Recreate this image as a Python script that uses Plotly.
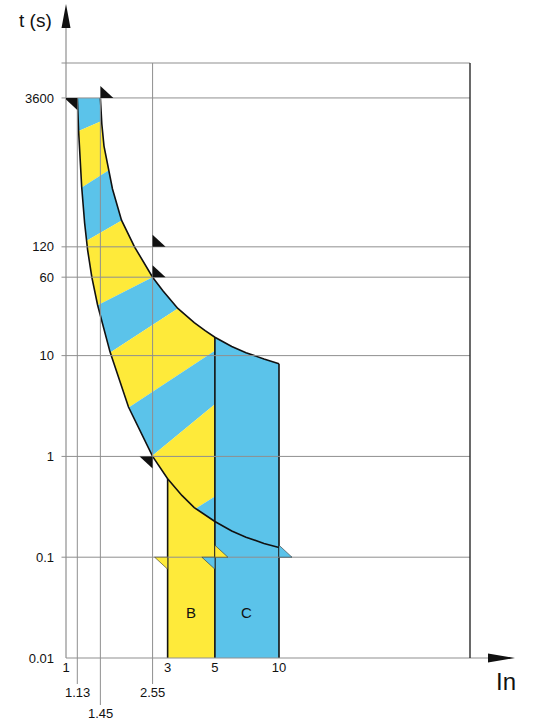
import math
import plotly.graph_objects as go

# ---------------- data ----------------
x_ticks = [1, 3, 5, 10]
x_tick_text = ["1", "3", "5", "10"]
x_extra_ticks = [1.13, 2.55, 1.45]
x_extra_text = ["1.13", "2.55", "1.45"]
x_extra_row = [1, 1, 2]          # label row below the axis
y_ticks = [0.01, 0.1, 1, 10, 60, 120, 3600]
y_tick_text = ["0.01", "0.1", "1", "10", "60", "120", "3600"]

# minimum tripping curve (lower / left boundary)
lower_in = [1.13, 1.146, 1.185, 1.223, 1.263, 1.322, 1.407, 1.609, 1.965, 2.55, 3, 3.5, 4, 5, 6, 7, 8.5, 10]
lower_t = [3600, 1690, 471, 207, 112, 60, 31.8, 10.9, 3.09, 1.0, 0.6, 0.41, 0.311, 0.226, 0.182, 0.158, 0.137, 0.125]
# maximum tripping curve (upper / right boundary)
upper_in = [1.45, 1.473, 1.508, 1.653, 1.822, 2.097, 2.55, 2.85, 3.35, 4, 4.5, 5, 6, 7, 8.5, 10]
upper_t = [3600, 1985, 1200, 450, 221, 120, 60, 44, 29.4, 21.2, 17.7, 15.2, 12.3, 10.7, 9.25, 8.3]

# magnetic zones
zone_names = ["B", "C"]
zone_lo = [3, 5]
zone_hi = [5, 10]
zone_label_t = [0.028, 0.028]

# diagonal stripe boundaries inside the thermal band (two points each)
stripe_a_in = [1.146, 1.185, 1.249, 1.407, 1.611, 1.97, 2.55, 4.08]
stripe_a_t = [1690, 466, 138, 31.6, 10.7, 3.05, 1.02, 0.305]
stripe_b_in = [1.453, 1.588, 1.823, 2.55, 3.35, 5, 5, 5]
stripe_b_t = [2100, 692, 219, 60, 29.4, 11.2, 3.3, 0.40]

# small flag markers
flag_in = [1.13, 1.45, 2.55, 2.55, 2.55, 3, 5, 5, 10]
flag_t = [3600, 3600, 120, 60, 1, 0.1, 0.1, 0.1, 0.1]
flag_side = ["left", "right", "right", "right", "left", "left", "left", "right", "right"]
flag_kind = ["k", "k", "k", "k", "k", "y", "b", "y", "b"]

# ---------------- style ----------------
YEL = "#FEEA3A"
BLU = "#5BC3EA"
BLK = "#111111"
GRID = "#8f8f8f"
FONT = "Liberation Sans, Arial, Helvetica, sans-serif"
kind_color = {"k": BLK, "y": YEL, "b": BLU}
stripe_colors = [BLU, YEL, BLU, YEL, BLU, YEL, BLU, YEL, BLU]

X_RANGE = [0, 1.8967]
Y_RANGE = [-2, 3.903]
PLOT_H = 595
PLOT_W = 404

L = lambda v: math.log10(v)


def to_uv(xs, ts):
    return [(L(a), L(b)) for a, b in zip(xs, ts)]


def clip(poly, A, B, keep_above):
    def side(P):
        return (B[0] - A[0]) * (P[1] - A[1]) - (B[1] - A[1]) * (P[0] - A[0])
    out = []
    n = len(poly)
    for i in range(n):
        P, Q = poly[i], poly[(i + 1) % n]
        sp, sq = side(P), side(Q)
        inside = sp >= 0 if keep_above else sp <= 0
        if inside:
            out.append(P)
        if (sp > 0 and sq < 0) or (sp < 0 and sq > 0):
            t = sp / (sp - sq)
            out.append((P[0] + t * (Q[0] - P[0]), P[1] + t * (Q[1] - P[1])))
    return out


fig = go.Figure()

# B zone (yellow, under the lower curve)
b_pts = [(x, t) for x, t in zip(lower_in, lower_t) if zone_lo[0] <= x <= zone_hi[0]]
bx = [zone_lo[0]] + [p[0] for p in b_pts] + [zone_hi[0]]
by = [y_ticks[0]] + [p[1] for p in b_pts] + [y_ticks[0]]
fig.add_trace(go.Scatter(x=bx, y=by, fill="toself", fillcolor=YEL, mode="none",
                         hoverinfo="skip", showlegend=False))
# C zone (blue, under the upper curve)
c_pts = [(x, t) for x, t in zip(upper_in, upper_t) if zone_lo[1] <= x <= zone_hi[1]]
cx = [zone_lo[1]] + [p[0] for p in c_pts] + [zone_hi[1]]
cy = [y_ticks[0]] + [p[1] for p in c_pts] + [y_ticks[0]]
fig.add_trace(go.Scatter(x=cx, y=cy, fill="toself", fillcolor=BLU, mode="none",
                         hoverinfo="skip", showlegend=False))

# thermal band polygon (x <= 5) split into diagonal stripes
up_part = [(x, t) for x, t in zip(upper_in, upper_t) if x <= zone_hi[0]]
low_part = [(x, t) for x, t in zip(lower_in, lower_t) if x <= zone_hi[0]][::-1]
band = to_uv([p[0] for p in up_part], [p[1] for p in up_part])
band += to_uv([p[0] for p in low_part], [p[1] for p in low_part])

lines = [((L(a), L(b)), (L(c), L(d))) for a, b, c, d in zip(stripe_a_in, stripe_a_t, stripe_b_in, stripe_b_t)]
for k, col in enumerate(stripe_colors):
    poly = band
    if k > 0:
        poly = clip(poly, lines[k - 1][0], lines[k - 1][1], keep_above=False)
    if k < len(lines):
        poly = clip(poly, lines[k][0], lines[k][1], keep_above=True)
    if len(poly) < 3:
        continue
    fig.add_trace(go.Scatter(x=[10 ** p[0] for p in poly], y=[10 ** p[1] for p in poly],
                             fill="toself", fillcolor=col, mode="none",
                             hoverinfo="skip", showlegend=False))

# curves
for xs, ts in [(lower_in, lower_t), (upper_in, upper_t)]:
    fig.add_trace(go.Scatter(x=xs, y=ts, mode="lines", line=dict(color=BLK, width=1.6),
                             hoverinfo="skip", showlegend=False))
# zone edges
edge_x = [zone_lo[0], zone_hi[0], zone_hi[1]]
edge_top = [lower_t[lower_in.index(zone_lo[0])], upper_t[upper_in.index(zone_hi[0])],
            upper_t[upper_in.index(zone_hi[1])]]
for ex, et in zip(edge_x, edge_top):
    fig.add_trace(go.Scatter(x=[ex, ex], y=[y_ticks[0], et], mode="lines",
                             line=dict(color=BLK, width=1.6), hoverinfo="skip", showlegend=False))

shapes = []
# horizontal grid lines (+ top frame line)
for v in y_ticks[1:]:
    shapes.append(dict(type="line", xref="paper", yref="y", x0=-4.5 / PLOT_W, x1=1, y0=v, y1=v,
                       line=dict(color=GRID, width=1), layer="above"))
shapes.append(dict(type="line", xref="paper", yref="paper", x0=-4.5 / PLOT_W, x1=1, y0=1, y1=1,
                   line=dict(color=GRID, width=1), layer="above"))
# vertical grid / leader lines
frac3600 = (L(y_ticks[-1]) - Y_RANGE[0]) / (Y_RANGE[1] - Y_RANGE[0])
for v, row in zip(x_extra_ticks, x_extra_row):
    top = 1 if v == 2.55 else frac3600
    bottom = -(26 if row == 1 else 47) / PLOT_H
    shapes.append(dict(type="line", xref="x", yref="paper", x0=v, x1=v, y0=bottom, y1=top,
                       line=dict(color=GRID, width=1), layer="above"))
# axes
shapes.append(dict(type="line", xref="paper", yref="paper", x0=0, x1=0, y0=0, y1=1 + 36 / PLOT_H,
                   line=dict(color=GRID, width=1.2), layer="above"))
shapes.append(dict(type="line", xref="paper", yref="paper", x0=0, x1=1 + 22 / PLOT_W, y0=0, y1=0,
                   line=dict(color=GRID, width=1.2), layer="above"))
shapes.append(dict(type="line", xref="paper", yref="paper", x0=1, x1=1, y0=0, y1=1,
                   line=dict(color="#2a2a2a", width=1.4), layer="above"))
# arrow heads
shapes.append(dict(type="path", xref="paper", yref="paper", xsizemode="pixel", ysizemode="pixel",
                   xanchor=0, yanchor=1, path="M0,59 L-4.5,35 L4.5,35 Z",
                   fillcolor=BLK, line=dict(width=0), layer="above"))
shapes.append(dict(type="path", xref="paper", yref="paper", xsizemode="pixel", ysizemode="pixel",
                   xanchor=1, yanchor=0, path="M45,0 L18,4.5 L18,-4.5 Z",
                   fillcolor=BLK, line=dict(width=0), layer="above"))
# flags
for fx, ft, sd, kd in zip(flag_in, flag_t, flag_side, flag_kind):
    path = "M0,0 L0,12 L13,0 Z" if sd == "right" else "M0,0 L-13,0 L0,-12 Z"
    shapes.append(dict(type="path", xref="x", yref="y", xsizemode="pixel", ysizemode="pixel",
                       xanchor=fx, yanchor=ft, path=path, fillcolor=kind_color[kd],
                       line=dict(width=0.6 if kd != "k" else 0, color="#333"), layer="above"))

annotations = []
for v, txt, row in zip(x_extra_ticks, x_extra_text, x_extra_row):
    annotations.append(dict(x=L(v), xref="x", y=0, yref="paper", yshift=-34 if row == 1 else -55,
                            text=txt, showarrow=False, yanchor="middle", xanchor="center",
                            font=dict(size=13, color=BLK, family=FONT)))
for nm, lo, hi, lt in zip(zone_names, zone_lo, zone_hi, zone_label_t):
    annotations.append(dict(x=(L(lo) + L(hi)) / 2, xref="x", y=L(lt), yref="y", text=nm,
                            showarrow=False, xanchor="center", yanchor="middle",
                            font=dict(size=15, color=BLK, family=FONT)))
annotations.append(dict(x=0, xref="paper", xshift=-31, y=1, yref="paper", yshift=43, text="t (s)",
                        showarrow=False, xanchor="center", yanchor="middle",
                        font=dict(size=19, color=BLK, family=FONT)))
annotations.append(dict(x=1, xref="paper", xshift=36, y=0, yref="paper", yshift=-23, text="In",
                        showarrow=False, xanchor="center", yanchor="middle",
                        font=dict(size=24, color=BLK, family=FONT)))

fig.update_layout(
    width=543, height=720,
    margin=dict(l=66, r=73, t=63, b=62),
    paper_bgcolor="white", plot_bgcolor="white",
    showlegend=False,
    font=dict(family=FONT, size=13, color=BLK),
    shapes=shapes, annotations=annotations,
    xaxis=dict(type="log", range=X_RANGE, showgrid=False, zeroline=False, showline=False,
               ticks="", tickvals=x_ticks, ticktext=x_tick_text, tickangle=0,
               tickfont=dict(size=13, color=BLK), fixedrange=True),
    yaxis=dict(type="log", range=Y_RANGE, showgrid=False, zeroline=False, showline=False,
               ticks="", tickvals=y_ticks, ticktext=y_tick_text,
               tickfont=dict(size=13, color=BLK), ticklabelstandoff=11, fixedrange=True),
)

fig.write_html("out.html")
